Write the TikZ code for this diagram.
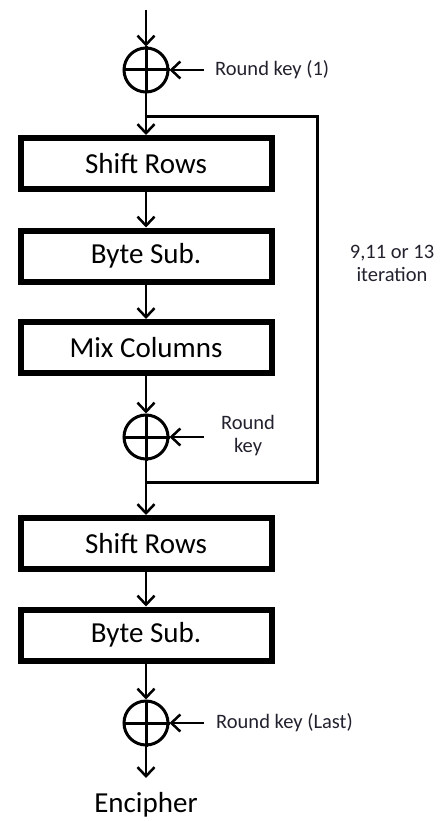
\documentclass[tikz,border=0pt]{standalone}
\usepackage{fontspec}
\setmainfont{Carlito}
\usetikzlibrary{arrows.meta}

\definecolor{keytext}{HTML}{22222F}

\begin{document}
\begin{tikzpicture}[
    x=1pt, y=-1pt,
    stage/.style={rectangle, draw, line width=6pt, minimum width=251pt, minimum height=51pt,
        inner sep=0pt, font=\fontsize{29}{30}\selectfont},
    xor/.style={circle, draw, line width=3pt, minimum size=44pt, inner sep=0pt},
    keylabel/.style={text=keytext, inner sep=0pt, align=center, font=\fontsize{20.5}{23}\selectfont},
    arrow/.style={-{Straight Barb[length=9pt, width=17pt]}, line width=2.5pt},
    loopline/.style={line width=3pt, line join=miter}
]
    \useasboundingbox (0,0) rectangle (440,821);

    % main chain
    \coordinate (in) at (146,10);
    \node[xor] (x1) at (146,70) {};
    \node[stage] (sr1) at (146,163.5) {Shift Rows};
    \node[stage] (bs1) at (146,256) {Byte Sub.};
    \node[stage] (mc) at (146,347.5) {Mix Columns};
    \node[xor] (x2) at (146,437) {};
    \node[stage] (sr2) at (146,543.5) {Shift Rows};
    \node[stage] (bs2) at (146,635) {Byte Sub.};
    \node[xor] (x3) at (146,723) {};
    \coordinate (out) at (146,778);
    \node[font=\fontsize{29}{30}\selectfont, inner sep=0pt] (enc) at (146,805) {Encipher};

    % crosses inside the xor circles
    \foreach \x in {x1,x2,x3}
        \draw[line width=3pt] (\x.north) -- (\x.south) (\x.west) -- (\x.east);

    % round keys
    \coordinate (k1) at (204,70);
    \coordinate (k2) at (204,437);
    \coordinate (k3) at (204,723);
    \node[keylabel, anchor=west] (k1txt) at (215,70) {Round key (1)};
    \node[keylabel] (k2txt) at (248,436) {Round\\key};
    \node[keylabel, anchor=west] (k3txt) at (216,723) {Round key (Last)};
    \node[keylabel] (iter) at (392,263) {9,11 or 13\\iteration};

    \draw[arrow] (in) -- (x1);
    \draw[arrow] (x1) -- (sr1);
    \draw[arrow] (sr1) -- (bs1);
    \draw[arrow] (bs1) -- (mc);
    \draw[arrow] (mc) -- (x2);
    \draw[arrow] (x2) -- (sr2);
    \draw[arrow] (sr2) -- (bs2);
    \draw[arrow] (bs2) -- (x3);
    \draw[arrow] (x3) -- (out);

    \draw[arrow] (k1) -- (x1);
    \draw[arrow] (k2) -- (x2);
    \draw[arrow] (k3) -- (x3);

    % repeated rounds
    \coordinate (j1) at (146,117);
    \coordinate (j2) at (146,482);
    \coordinate (cr) at (317,117);
    \draw[loopline] (j2) -| (cr) -- (j1);
\end{tikzpicture}
\end{document}
